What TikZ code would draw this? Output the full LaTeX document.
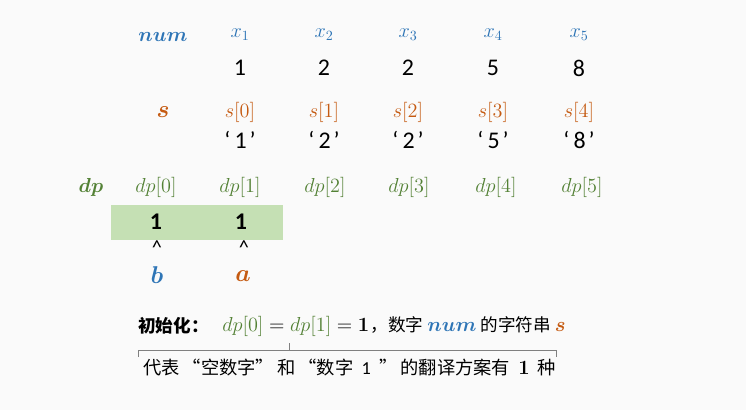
\documentclass[tikz,border=0pt]{standalone}
\usepackage{amsmath}
\usepackage[no-math]{fontspec}
\setmainfont{Carlito}
\newfontfamily\cjk{Noto Sans CJK SC}
\usepackage{xcolor}
\definecolor{numblue}{HTML}{2E75B6}
\definecolor{sorange}{HTML}{C55A11}
\definecolor{dpgreen}{HTML}{538135}
\definecolor{cellgreen}{HTML}{C5E0B4}
\definecolor{paper}{HTML}{FAFAFA}
\usetikzlibrary{positioning}

\begin{document}
\begin{tikzpicture}[x=0.025cm,y=-0.025cm]
\tikzset{rowname/.style={font=\fontsize{15}{17}\selectfont,inner sep=0pt},
         idx/.style={font=\fontsize{14.5}{16}\selectfont,inner sep=0pt},
         val/.style={font=\fontsize{17}{19}\selectfont,inner sep=0pt},
         note/.style={font=\cjk\fontsize{13}{15}\selectfont,inner sep=0pt}}
\def\q#1{`\kern3pt#1\kern2pt'}
% Canvas
\fill[paper] (0,0) rectangle (746,410);
\useasboundingbox (0,0) rectangle (746,410);
% Row: num
\node[rowname,text=numblue] (num) at (163,37) {$\boldsymbol{num}$};
\foreach \i/\x/\v in {1/240/1,2/324/2,3/408/2,4/493/5,5/579/8}{
  \node[idx,text=numblue] (x\i) at (\x,35) {$x_{\i}$};
  \node[val] (v\i) at (\x,68) {\v};
}
% Row: s
\node[rowname,text=sorange,font=\fontsize{17}{19}\selectfont] (s) at (163,112) {$\boldsymbol{s}$};
\foreach \i/\x/\v in {0/240/1,1/324/2,2/408/2,3/493/5,4/579/8}{
  \node[idx,text=sorange] (s\i) at (\x,112) {$s[\i]$};
  \node[val] (c\i) at (\x,140) {\q{\v}};
}
% Row: dp
\node[rowname,text=dpgreen] (dp) at (91,187) {$\boldsymbol{dp}$};
\foreach \i/\x in {0/156,1/240,2/325,3/409,4/496,5/582}{
  \node[idx,text=dpgreen] (dp\i) at (\x,187) {$dp[\i]$};
}
\fill[cellgreen] (111,205) rectangle (283,240);
\node[val,font=\fontsize{17}{19}\selectfont\bfseries] (d0) at (156,222) {1};
\node[val,font=\fontsize{17}{19}\selectfont\bfseries] (d1) at (241,222) {1};
% Pointers
\node[idx] (pb) at (157,248) {\textasciicircum};
\node[idx] (pa) at (244,248) {\textasciicircum};
\node[rowname,text=numblue,font=\fontsize{17}{19}\selectfont] (b) at (157,275) {$\boldsymbol{b}$};
\node[rowname,text=sorange,font=\fontsize{17}{19}\selectfont] (a) at (243,276) {$\boldsymbol{a}$};
% Initialisation note
\node[note,anchor=west,font=\cjk\bfseries\fontsize{12.5}{14}\selectfont] (init) at (138,326) {初始化：};
\node[note,anchor=west] (eq) at (222,326)
  {\normalfont\fontsize{14.5}{16}\selectfont$\color{dpgreen}dp[0]\color{black}=\color{dpgreen}dp[1]\color{black}=\mathbf{1}$\cjk\fontsize{12.5}{14}\selectfont\kern1pt，数字\ {\normalfont\fontsize{15}{17}\selectfont$\boldsymbol{\color{numblue}num}$}\ 的字符串\ {\normalfont\fontsize{15}{17}\selectfont$\boldsymbol{\color{sorange}s}$}};
\coordinate (bl) at (138,357);
\coordinate (br) at (556,357);
\coordinate (bm) at (289,343);
\draw[gray,line width=0.6pt] (bl) |- (bm |- 0,350) -- (bm);
\draw[gray,line width=0.6pt] (bm |- 0,350) -| (br);
\node[note,anchor=west] (mean) at (143,368)
  {代表\,“空数字”\,和\,“数字\ \ {\normalfont 1}\ \ ”\,的翻译方案有\ \ {\normalfont\fontsize{14}{16}\selectfont$\mathbf{1}$}\ \ 种};
\end{tikzpicture}
\end{document}
